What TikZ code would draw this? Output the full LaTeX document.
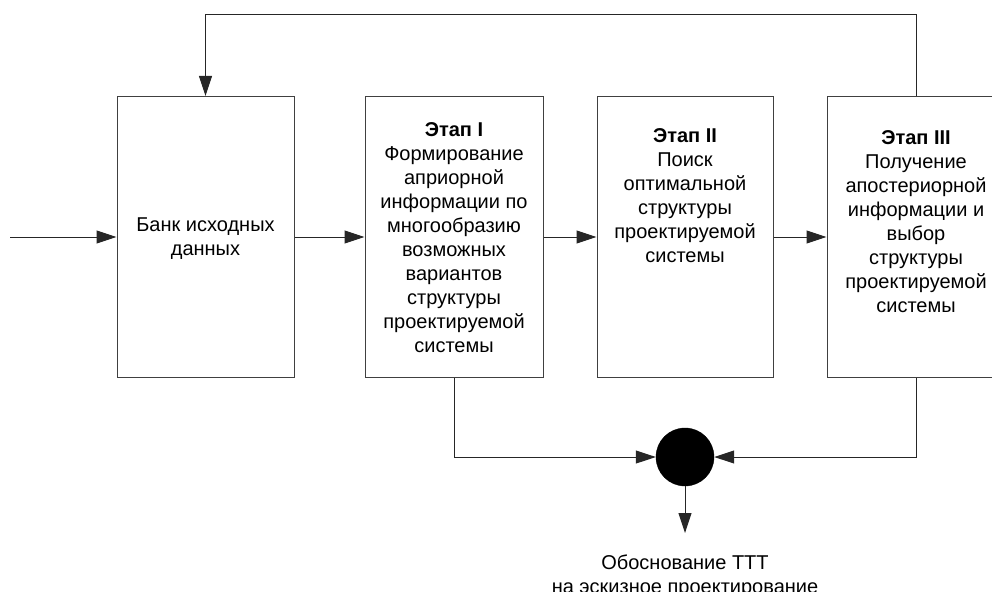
\documentclass[tikz,border=0pt]{standalone}
\usepackage{fontspec}
\setmainfont{Liberation Sans}
\usetikzlibrary{arrows.meta}
\begin{document}
\begin{tikzpicture}[x=1pt,y=-1pt,
  box/.style={draw=black!75,line width=1pt,rectangle,inner sep=0pt,minimum height=281pt},
  lbl/.style={inner sep=0pt,align=center,font=\fontsize{20}{24}\selectfont},
  conn/.style={draw=black!85,line width=1pt},
  arr/.style={conn,-{Triangle[length=20pt,width=13pt]}}]
\clip (0,0) rectangle (992,591);
\node[box,minimum width=177pt] (b1) at (205.5,237) {};
\node[box,minimum width=178pt] (b2) at (454,237) {};
\node[box,minimum width=176pt] (b3) at (685,237) {};
\node[box,minimum width=178pt] (b4) at (916,237) {};
\node[circle,fill=black,draw=black,minimum size=58pt,inner sep=0pt] (c) at (685,457) {};
\coordinate (in) at (10,237);
\coordinate (out) at (685,533);
\coordinate (top) at (916,15);

\node[lbl,anchor=north] (t1) at (205.5,218) {Банк исходных\\данных};
\node[lbl,anchor=north] (t2) at (454,122.5) {\textbf{Этап I}\\Формирование\\априорной\\информации по\\многообразию\\возможных\\вариантов\\структуры\\проектируемой\\системы};
\node[lbl,anchor=north] (t3) at (685,128.5) {\textbf{Этап II}\\Поиск\\оптимальной\\структуры\\проектируемой\\системы};
\node[lbl,anchor=north] (t4) at (916,130.5) {\textbf{Этап III}\\Получение\\апостериорной\\информации и\\выбор\\структуры\\проектируемой\\системы};
\node[lbl,anchor=north] (t5) at (685,555) {Обоснование ТТТ\\на эскизное проектирование};

\draw[arr] (in) -- (b1.west);
\draw[arr] (b1.east) -- (b2.west);
\draw[arr] (b2.east) -- (b3.west);
\draw[arr] (b3.east) -- (b4.west);
\draw[arr] (b4.north) -- (top) -| (b1.north);
\draw[arr] (b2.south) |- (c.west);
\draw[arr] (b4.south) |- (c.east);
\draw[arr] (c.south) -- (out);
\end{tikzpicture}
\end{document}
